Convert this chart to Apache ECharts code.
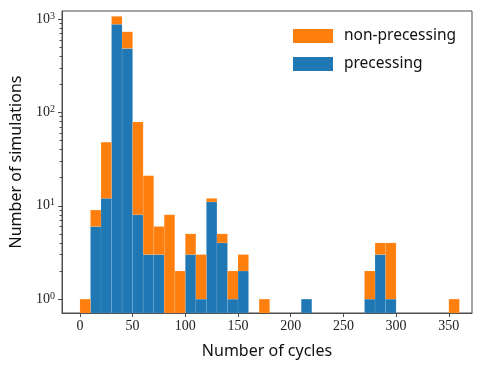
<!DOCTYPE html>
<html>
<head>
<meta charset="utf-8">
<script src="https://cdn.jsdelivr.net/npm/echarts@6/dist/echarts.min.js"></script>
<style>
  html, body { margin: 0; padding: 0; background: #fff; }
  #chart { width: 484px; height: 367px; }
</style>
</head>
<body>
<div id="chart"></div>
<script>
// bin left edges (width 10 cycles)
const binEdges = [0,10,20,30,40,50,60,70,80,90,100,110,120,130,140,150,160,170,180,190,200,210,220,230,240,250,260,270,280,290,300,310,320,330,340,350];
const binWidth = 10;
// counts per bin
const precessing    = [0,6,12,880,485,8,3,3,0,0,3,1,11,4,1,2,0,0,0,0,0,1,0,0,0,0,0,1,3,1,0,0,0,0,0,0];
const nonPrecessing = [1,3,36,190,245,71,18,3,8,2,2,2,1,1,1,1,0,1,0,0,0,0,0,0,0,0,0,1,1,3,0,0,0,0,0,1];
const xTicks = [0,50,100,150,200,250,300,350];
const yTicks = [1,10,100,1000];
const yMinor = [2,3,4,5,6,7,8,9,20,30,40,50,60,70,80,90,200,300,400,500,600,700,800,900];

const yMin = 0.71, yMax = 1220;
const serif = '"Liberation Serif", serif';
const sans = '"Noto Sans", sans-serif';

// rows: [x0, x1, bottom, top]
const blueRows = [];
const orangeRows = [];
binEdges.forEach((x0, i) => {
  const p = precessing[i], n = nonPrecessing[i];
  if (p > 0) blueRows.push([x0, x0 + binWidth, yMin, p]);
  if (n > 0) orangeRows.push([x0, x0 + binWidth, p > 0 ? p : yMin, p + n]);
});

function renderBin(params, api) {
  const a = api.coord([api.value(0), api.value(3)]);
  const b = api.coord([api.value(1), api.value(2)]);
  return {
    type: 'rect',
    shape: { x: a[0], y: a[1], width: b[0] - a[0], height: b[1] - a[1] },
    style: { fill: api.visual('color'), stroke: 'rgba(255,255,255,0.15)', lineWidth: 0.6 }
  };
}

const chart = echarts.init(document.getElementById('chart'));
chart.setOption({
  animation: false,
  grid: { left: 61, right: 12, top: 11, bottom: 54, show: true, borderColor: '#4d4d4d', borderWidth: 1 },
  legend: {
    orient: 'vertical', left: 288, top: 23,
    itemWidth: 40, itemHeight: 14, itemGap: 12,
    icon: 'rect',
    data: ['non-precessing', 'precessing'],
    textStyle: { fontFamily: sans, fontSize: 15.5, color: '#111', padding: [0, 0, 0, 6] }
  },
  xAxis: {
    type: 'value', min: -17, max: 372,
    name: 'Number of cycles', nameLocation: 'middle', nameGap: 30,
    nameTextStyle: { fontFamily: sans, fontSize: 16, color: '#111' },
    axisLine: { show: true, onZero: false, lineStyle: { color: '#4d4d4d' } },
    axisTick: { show: true, customValues: xTicks, length: 4, lineStyle: { color: '#4d4d4d' } },
    axisLabel: { customValues: xTicks, fontFamily: serif, fontSize: 14, color: '#222', margin: 6 },
    splitLine: { show: false }
  },
  yAxis: [{
    type: 'log', logBase: 10, min: yMin, max: yMax,
    name: 'Number of simulations', nameLocation: 'middle', nameGap: 38,
    nameTextStyle: { fontFamily: sans, fontSize: 16, color: '#111' },
    axisLine: { show: true, onZero: false, lineStyle: { color: '#4d4d4d' } },
    axisTick: { show: true, customValues: yTicks, length: 4, lineStyle: { color: '#4d4d4d' } },
    axisLabel: {
      customValues: yTicks, fontFamily: serif, fontSize: 14, color: '#222', margin: 7,
      formatter: v => '10{s|' + Math.round(Math.log10(v)) + '}',
      rich: { s: { fontFamily: serif, fontSize: 10, color: '#222', verticalAlign: 'top', padding: [0, 0, 6, 0] } }
    },
    splitLine: { show: false }
  }, {
    type: 'log', logBase: 10, min: yMin, max: yMax, position: 'left', offset: 0,
    axisLine: { show: false, onZero: false },
    axisTick: { show: true, customValues: yMinor, length: 2.5, lineStyle: { color: '#4d4d4d', width: 1 } },
    axisLabel: { show: false },
    splitLine: { show: false }
  }],
  series: [{
    name: 'precessing', type: 'custom', renderItem: renderBin,
    itemStyle: { color: '#1f77b4' },
    encode: { x: [0, 1], y: [2, 3] },
    data: blueRows
  }, {
    name: 'non-precessing', type: 'custom', renderItem: renderBin,
    itemStyle: { color: '#ff7f0e' },
    encode: { x: [0, 1], y: [2, 3] },
    data: orangeRows
  }]
});
</script>
</body>
</html>
